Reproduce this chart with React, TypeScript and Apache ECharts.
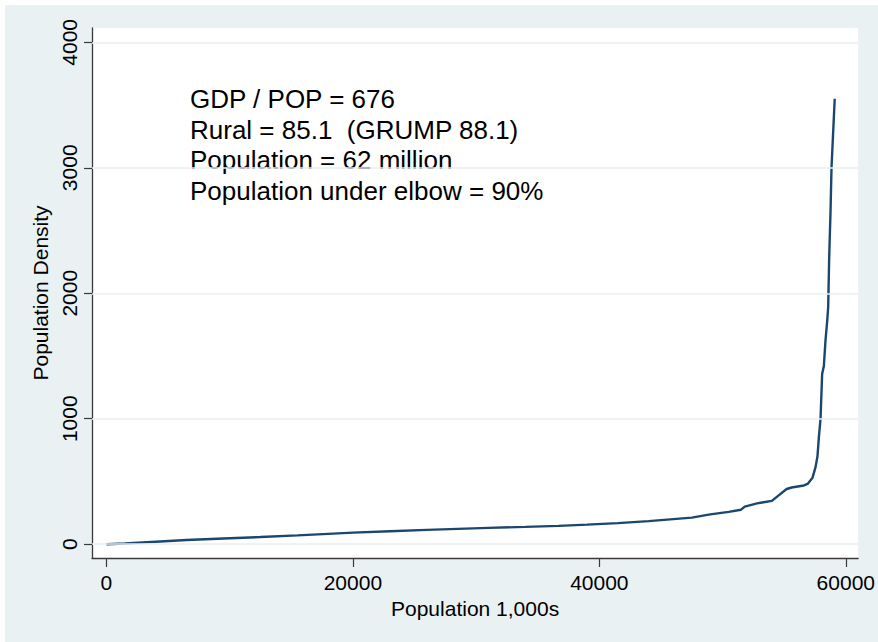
import React, { useEffect, useRef } from "react";
import * as echarts from "echarts";

// Cumulative population (1,000s), sorted by density
const popThousands = [
  0, 1500, 4000, 6500, 9500, 12500, 15500, 18000, 20000, 23000, 26000, 28500,
  31000, 34000, 36700, 39000, 41500, 44000, 46000, 47500, 49000, 50500, 51500,
  51800, 52800, 53200, 54000, 54500, 55200, 55600, 56600, 56900, 57300, 57540,
  57700, 57820, 57950, 58080, 58220, 58350, 58490, 58570, 58650, 58760, 58840,
  59100,
];
// Population density
const density = [
  0, 6, 20, 33, 45, 57, 70, 82, 92, 103, 114, 122, 130, 138, 146, 156, 168,
  184, 200, 212, 238, 258, 275, 300, 325, 332, 345, 385, 440, 452, 468, 480,
  530, 612, 700, 860, 1000, 1357, 1420, 1620, 1780, 1889, 2280, 2650, 3000,
  3550,
];
const xTicks = [0, 20000, 40000, 60000];
const yTicks = [0, 1000, 2000, 3000, 4000];
const notes = [
  "GDP / POP = 676",
  "Rural = 85.1  (GRUMP 88.1)",
  "Population = 62 million",
  "Population under elbow = 90%",
];

const FONT = "'Liberation Sans', Arial, Helvetica, sans-serif";
const BG = "#EAF1F3";

export default function App() {
  const ref = useRef<HTMLDivElement>(null);
  useEffect(() => {
    document.body.style.margin = "0";
    if (!ref.current) return;
    const chart = echarts.init(ref.current, undefined, { renderer: "svg" });
    const data = popThousands.map((x, i) => [x, density[i]]);
    chart.setOption({
      animation: false,
      backgroundColor: BG,
      textStyle: { fontFamily: FONT },
      grid: {
        left: 92,
        right: 17,
        top: 28,
        bottom: 84,
        show: true,
        backgroundColor: "#FFFFFF",
        borderWidth: 0,
        containLabel: false,
      },
      xAxis: {
        type: "value",
        min: -1170,
        max: 61000,
        name: "Population 1,000s",
        nameLocation: "middle",
        nameGap: 37,
        nameTextStyle: { color: "#000", fontSize: 21, fontFamily: FONT },
        axisLine: { show: true, onZero: false, lineStyle: { color: "#3a3a3a", width: 1.3 } },
        axisTick: { show: true, length: 9, customValues: xTicks, lineStyle: { color: "#3a3a3a", width: 1.2 } },
        axisLabel: {
          customValues: xTicks,
          formatter: (v: number) => String(v),
          color: "#000",
          fontSize: 21,
          margin: 14,
          fontFamily: FONT,
        },
        splitLine: { show: false },
      },
      yAxis: {
        type: "value",
        min: -110,
        max: 4114,
        name: "Population Density",
        nameLocation: "middle",
        nameGap: 36,
        nameTextStyle: { color: "#000", fontSize: 21, fontFamily: FONT },
        axisLine: { show: true, onZero: false, lineStyle: { color: "#3a3a3a", width: 1.3 } },
        axisTick: { show: true, length: 8, customValues: yTicks, lineStyle: { color: "#3a3a3a", width: 1.2 } },
        axisLabel: {
          customValues: yTicks,
          formatter: (v: number) => String(v),
          rotate: 90,
          color: "#000",
          fontSize: 21,
          margin: 12,
          fontFamily: FONT,
        },
        splitLine: { show: false },
      },
      graphic: [
        { type: "rect", shape: { x: 0, y: 0, width: 878, height: 5 }, style: { fill: "#FFFFFF" }, silent: true },
        { type: "rect", shape: { x: 0, y: 0, width: 5, height: 642 }, style: { fill: "#FFFFFF" }, silent: true },
        ...notes.map((t, i) => ({
          type: "text",
          x: 190,
          y: 99 + i * 30.5,
          silent: true,
          style: {
            text: t,
            fill: "#000",
            fontSize: 26,
            fontFamily: FONT,
            verticalAlign: "middle",
            align: "left",
          },
        })),
      ],
      series: [
        {
          type: "line",
          data: [],
          z: 1,
          silent: true,
          markLine: {
            silent: true,
            symbol: ["none", "none"],
            label: { show: false },
            lineStyle: { color: "#E8EFF2", type: "solid", width: 1.6 },
            data: yTicks.map((v) => ({ yAxis: v })),
          },
        },
        {
          type: "line",
          data,
          z: 3,
          showSymbol: false,
          symbol: "none",
          lineStyle: { color: "#1A476F", width: 2.4 },
        },
      ],
    });
    return () => chart.dispose();
  }, []);
  return <div ref={ref} style={{ width: 878, height: 642 }} />;
}
